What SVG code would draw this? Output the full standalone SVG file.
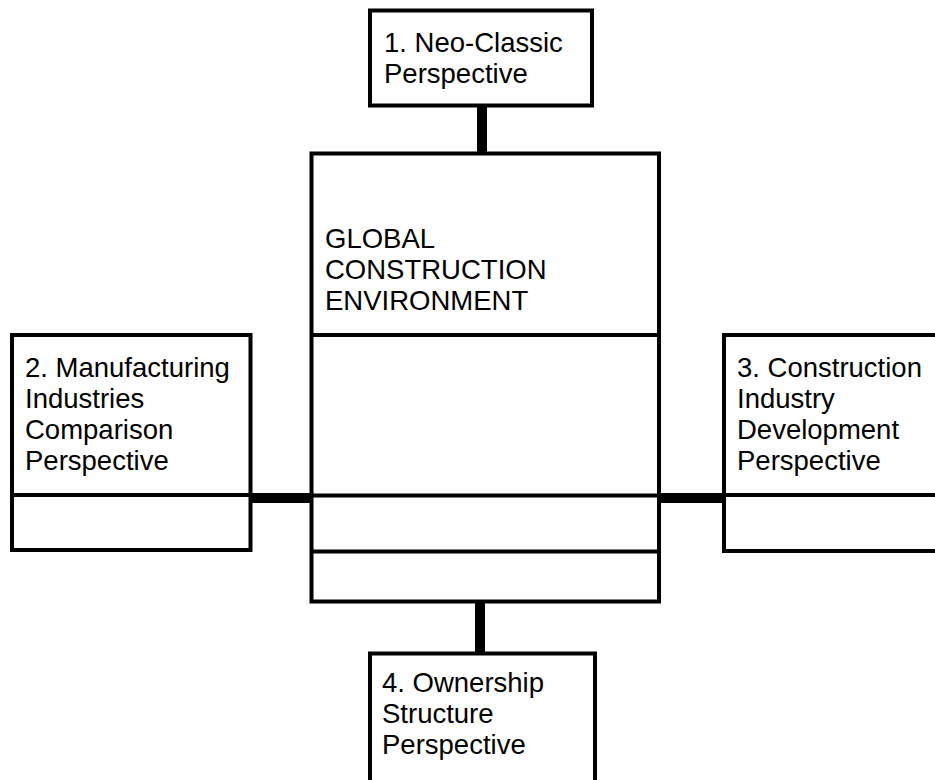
<svg xmlns="http://www.w3.org/2000/svg" width="935" height="780" viewBox="0 0 935 780">
<style>
.box{fill:#ffffff;stroke:#000000;stroke-width:4}
.div{stroke:#000000;stroke-width:4}
.con{stroke:#000000;stroke-width:10;fill:none}
.t{font-family:"Liberation Sans",Arial,sans-serif;font-size:27.5px;fill:#000000}
</style>
<rect width="935" height="780" fill="#ffffff"/>
<g id="connectors">
<line class="con" x1="482" y1="105" x2="482" y2="155"/>
<line class="con" x1="480" y1="600" x2="480" y2="655"/>
<line class="con" x1="250" y1="498" x2="312" y2="498" stroke-width="9"/>
<line class="con" x1="659" y1="498" x2="724" y2="498" stroke-width="9"/>
</g>
<g id="main">
<rect class="box" x="311.5" y="153.5" width="347.5" height="448"/>
<line class="div" x1="311.5" y1="335" x2="659" y2="335"/>
<line class="div" x1="311.5" y1="495.5" x2="659" y2="495.5"/>
<line class="div" x1="311.5" y1="551.5" x2="659" y2="551.5"/>
<text class="t" x="325"><tspan x="325" y="248">GLOBAL</tspan><tspan x="325" y="279">CONSTRUCTION</tspan><tspan x="325" y="310">ENVIRONMENT</tspan></text>
</g>
<g id="node1">
<rect class="box" x="370" y="10.5" width="222" height="95"/>
<text class="t"><tspan x="384" y="52">1. Neo-Classic</tspan><tspan x="384" y="83">Perspective</tspan></text>
</g>
<g id="node2">
<rect class="box" x="12" y="335" width="238.5" height="215"/>
<line class="div" x1="12" y1="495" x2="250.5" y2="495"/>
<text class="t"><tspan x="25" y="377">2. Manufacturing</tspan><tspan x="25" y="408">Industries</tspan><tspan x="25" y="439">Comparison</tspan><tspan x="25" y="470">Perspective</tspan></text>
</g>
<g id="node3">
<rect class="box" x="724" y="335" width="220" height="216"/>
<line class="div" x1="724" y1="495" x2="944" y2="495"/>
<text class="t"><tspan x="737" y="377">3. Construction</tspan><tspan x="737" y="408">Industry</tspan><tspan x="737" y="439">Development</tspan><tspan x="737" y="470">Perspective</tspan></text>
</g>
<g id="node4">
<rect class="box" x="370" y="653.5" width="225" height="140"/>
<text class="t"><tspan x="382" y="692">4. Ownership</tspan><tspan x="382" y="723">Structure</tspan><tspan x="382" y="754">Perspective</tspan></text>
</g>
</svg>
